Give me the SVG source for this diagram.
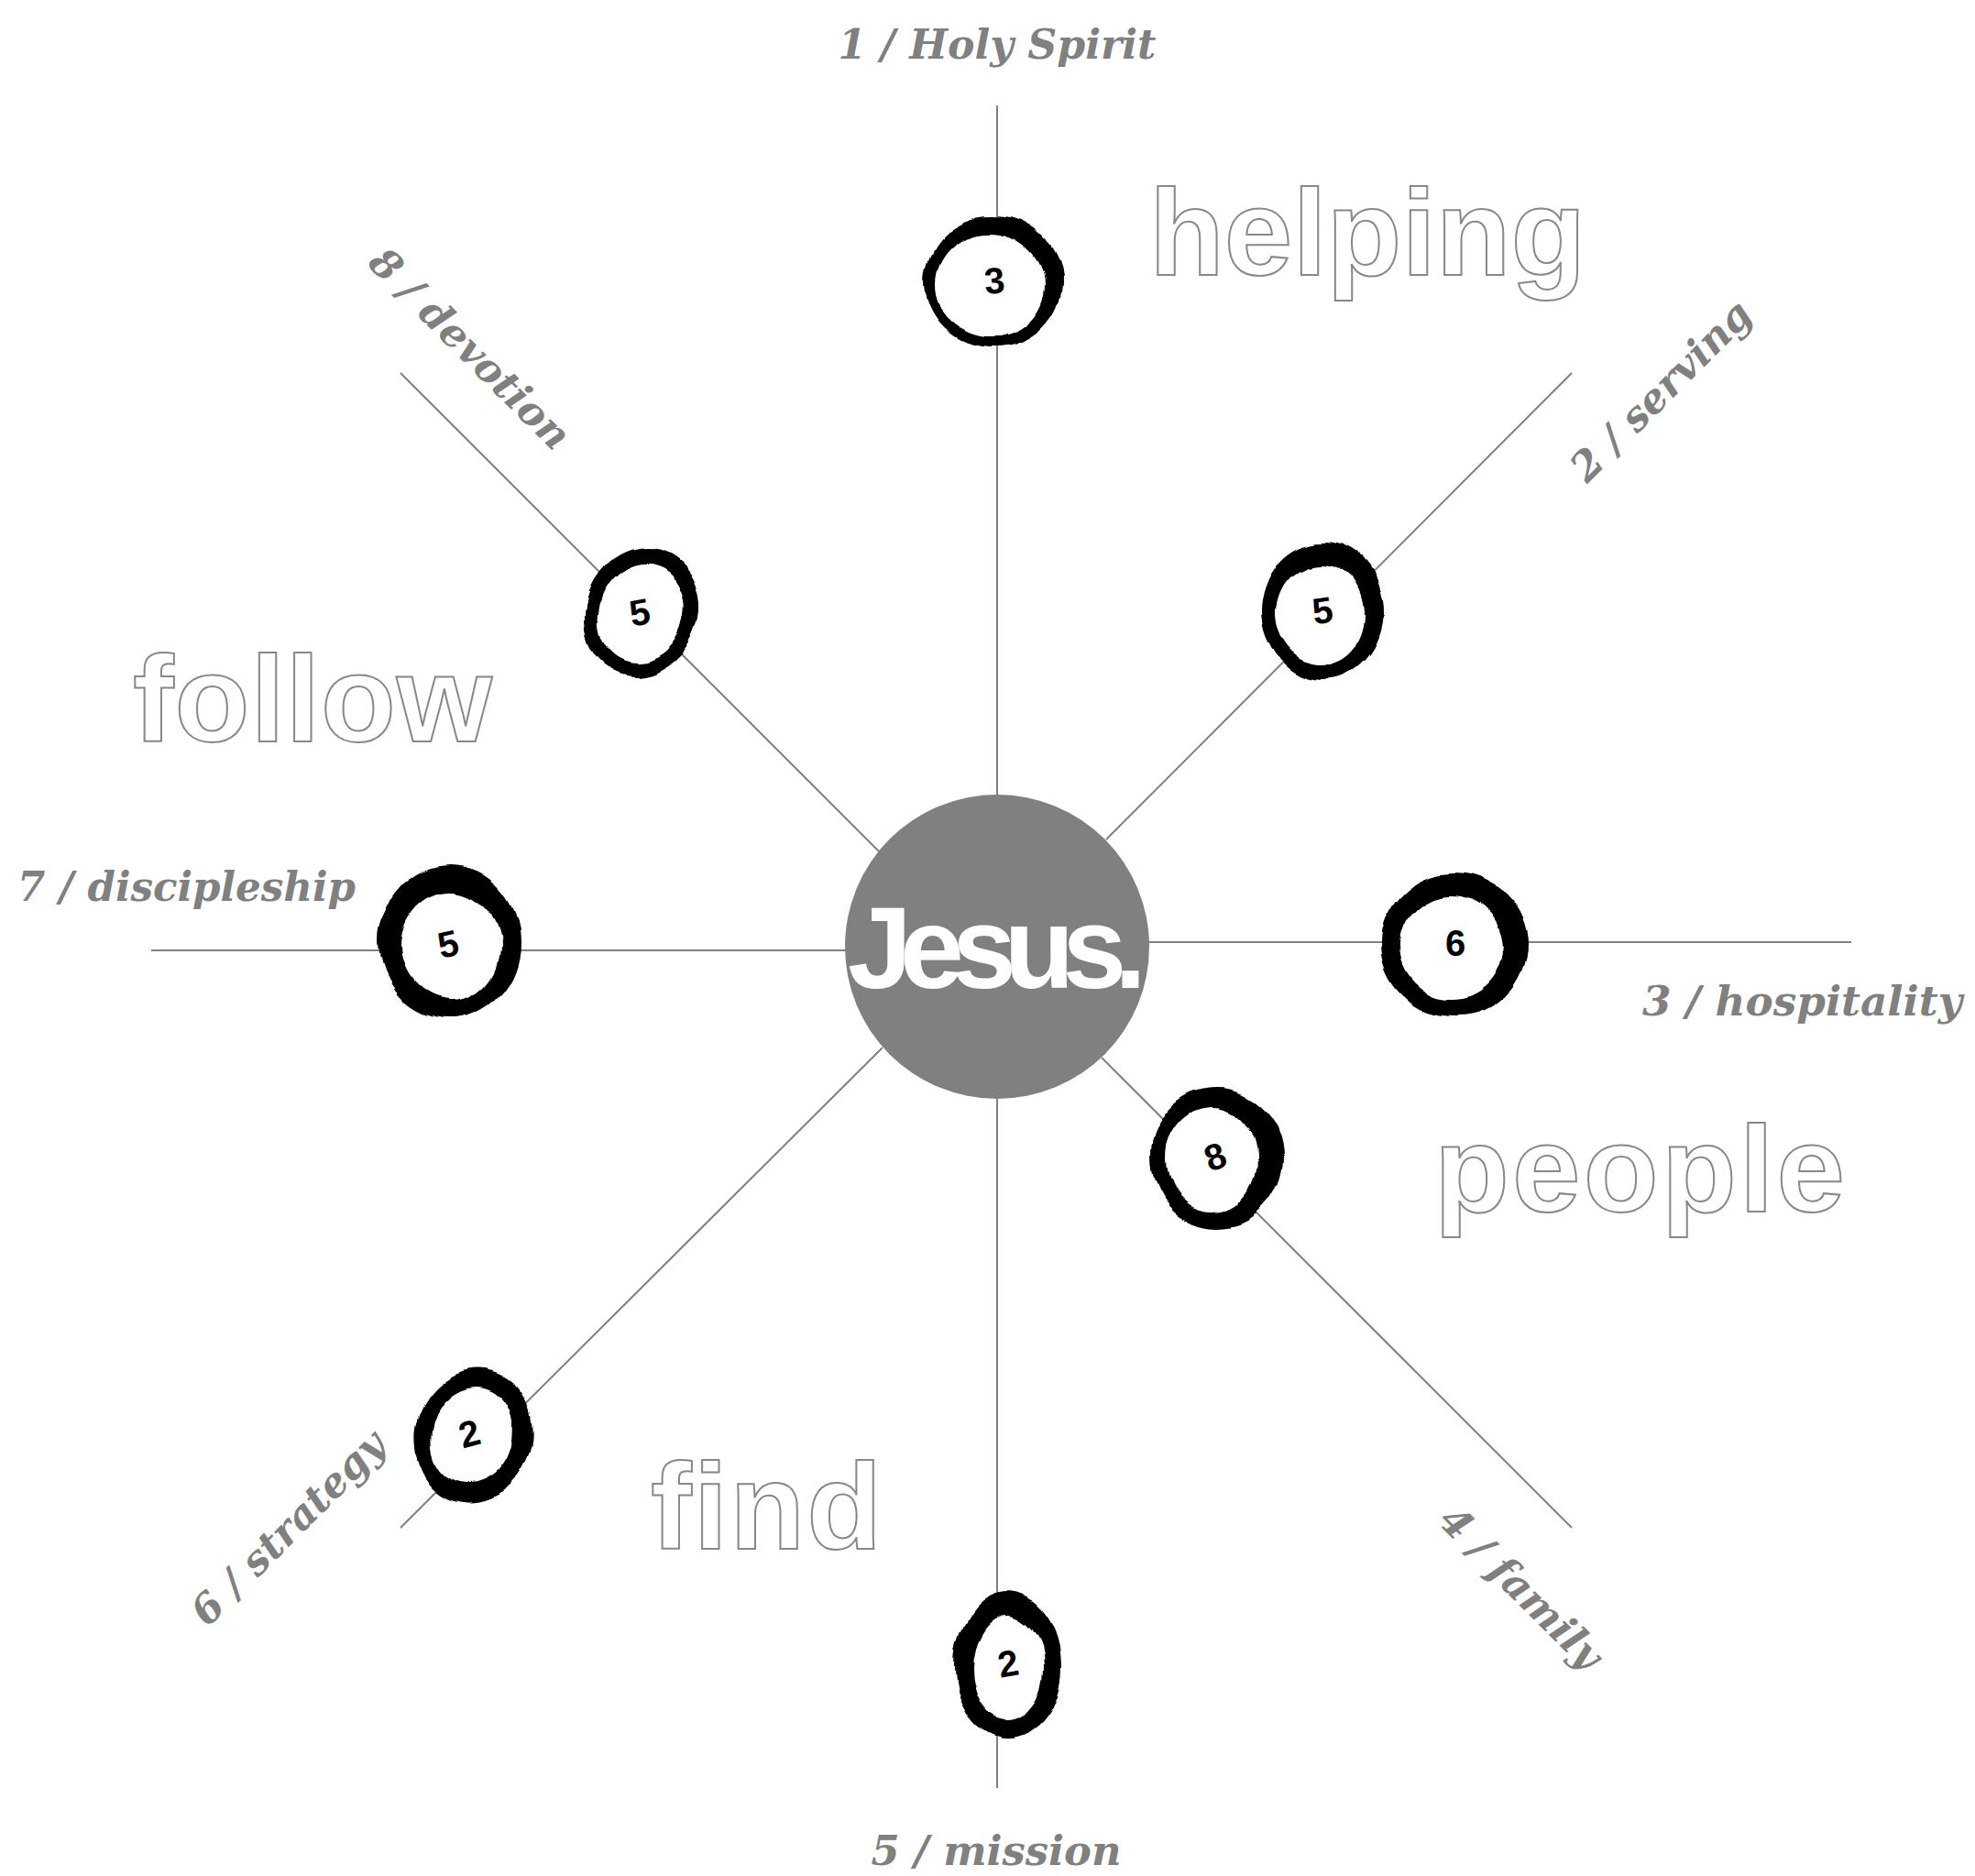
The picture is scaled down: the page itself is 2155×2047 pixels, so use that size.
<svg xmlns="http://www.w3.org/2000/svg" width="2155" height="2047" viewBox="0 0 2155 2047">
<defs>
<filter id="wob" x="-20%" y="-20%" width="140%" height="140%">
<feTurbulence type="fractalNoise" baseFrequency="0.022" numOctaves="1" seed="7" result="n"/>
<feDisplacementMap in="SourceGraphic" in2="n" scale="16" xChannelSelector="R" yChannelSelector="G"/>
</filter>
</defs>
<style>
.ln{stroke:#808080;stroke-width:2;fill:none}
.lbl{font-family:"DejaVu Serif","Liberation Serif",serif;font-weight:bold;font-style:italic;font-size:44px;fill:#808080}
.big{font-family:"Liberation Sans",Arial,sans-serif;font-weight:bold;font-size:134px;fill:#ffffff;stroke:#888888;stroke-width:2}
.ro{fill:#000000}
.ri{fill:#ffffff}
.ring{filter:url(#wob)}
.num{font-family:"Liberation Sans",Arial,sans-serif;font-weight:bold;font-size:40px;fill:#000000;text-anchor:middle;dominant-baseline:central}
</style>
<rect width="2155" height="2047" fill="#ffffff"/>
<g id="connectors">
<line class="ln" x1="1088" y1="115" x2="1088" y2="868"/>
<line class="ln" x1="1088" y1="1198" x2="1088" y2="1951"/>
<line class="ln" x1="165" y1="1037" x2="924" y2="1037"/>
<line class="ln" x1="1253" y1="1028" x2="2020" y2="1028"/>
<line class="ln" x1="437" y1="407" x2="959" y2="929"/>
<line class="ln" x1="1715" y1="407" x2="1207" y2="916"/>
<line class="ln" x1="437" y1="1667" x2="963" y2="1143"/>
<line class="ln" x1="1715" y1="1667" x2="1202" y2="1154"/>
</g>
<g id="words">
<text class="big" x="1254" y="300">helping</text>
<text class="big" x="145" y="809" textLength="392" lengthAdjust="spacing">follow</text>
<text class="big" x="1565" y="1322" textLength="448" lengthAdjust="spacing">people</text>
<text class="big" x="710" y="1690" textLength="252" lengthAdjust="spacing">find</text>
</g>
<g id="jesus">
<circle cx="1088" cy="1033" r="166" fill="#808080"/>
<text x="925" y="1078" font-family="Liberation Sans, Arial, sans-serif" font-weight="bold" font-size="126" fill="#ffffff" textLength="326" lengthAdjust="spacing">Jesus.</text>
</g>
<g id="labels">
<text class="lbl" x="1088" y="64" text-anchor="middle" textLength="347" lengthAdjust="spacingAndGlyphs">1 / Holy Spirit</text>
<text class="lbl" x="19" y="983" textLength="369" lengthAdjust="spacingAndGlyphs">7 / discipleship</text>
<text class="lbl" x="1792" y="1108" textLength="349" lengthAdjust="spacingAndGlyphs">3 / hospitality</text>
<text class="lbl" x="1087" y="2035" text-anchor="middle" textLength="273" lengthAdjust="spacingAndGlyphs">5 / mission</text>
<text class="lbl" text-anchor="middle" transform="translate(502,391) rotate(45)">8 / devotion</text>
<text class="lbl" text-anchor="middle" transform="translate(1823,437) rotate(-45)">2 / serving</text>
<text class="lbl" text-anchor="middle" transform="translate(1649,1743) rotate(45)">4 / family</text>
<text class="lbl" text-anchor="middle" transform="translate(325,1678) rotate(-45)">6 / strategy</text>
</g>
<g id="node-top">
<g class="ring">
<ellipse class="ro" cx="1083" cy="308" rx="74" ry="71"/>
<ellipse class="ri" cx="1080" cy="311" rx="59" ry="56"/>
</g>
<text class="num" x="1085" y="306" transform="rotate(-5 1085 306)">3</text>
</g>
<g id="node-ne">
<g class="ring">
<ellipse class="ro" cx="1444" cy="667" rx="67" ry="76"/>
<ellipse class="ri" cx="1441" cy="670" rx="48" ry="55"/>
</g>
<text class="num" x="1443" y="666" transform="rotate(-8 1443 666)">5</text>
</g>
<g id="node-nw">
<g class="ring">
<ellipse class="ro" cx="700" cy="668" rx="62" ry="71" transform="rotate(20 700 668)"/>
<ellipse class="ri" cx="700" cy="669" rx="46" ry="54" transform="rotate(20 700 668)"/>
</g>
<text class="num" x="698" y="668" transform="rotate(-10 698 668)">5</text>
</g>
<g id="node-w">
<g class="ring">
<ellipse class="ro" cx="491" cy="1028" rx="77" ry="83"/>
<ellipse class="ri" cx="492" cy="1032" rx="54" ry="59"/>
</g>
<text class="num" x="489" y="1030" transform="rotate(-12 489 1030)">5</text>
</g>
<g id="node-e">
<g class="ring">
<ellipse class="ro" cx="1587" cy="1031" rx="80" ry="79"/>
<ellipse class="ri" cx="1584" cy="1034" rx="56" ry="57"/>
</g>
<text class="num" x="1588" y="1029">6</text>
</g>
<g id="node-se">
<g class="ring">
<ellipse class="ro" cx="1328" cy="1263" rx="72" ry="76"/>
<ellipse class="ri" cx="1322" cy="1265" rx="50" ry="57"/>
</g>
<text class="num" x="1326" y="1262" transform="rotate(-20 1326 1262)">8</text>
</g>
<g id="node-sw">
<g class="ring">
<ellipse class="ro" cx="517" cy="1567" rx="64" ry="73" transform="rotate(15 517 1567)"/>
<ellipse class="ri" cx="515" cy="1567" rx="45" ry="54" transform="rotate(15 517 1567)"/>
</g>
<text class="num" x="512" y="1564" transform="rotate(-15 512 1564)">2</text>
</g>
<g id="node-bottom">
<g class="ring">
<ellipse class="ro" cx="1100" cy="1818" rx="58" ry="80"/>
<ellipse class="ri" cx="1100" cy="1820" rx="39" ry="57"/>
</g>
<text class="num" x="1100" y="1815" transform="rotate(-10 1100 1815)">2</text>
</g>
</svg>
